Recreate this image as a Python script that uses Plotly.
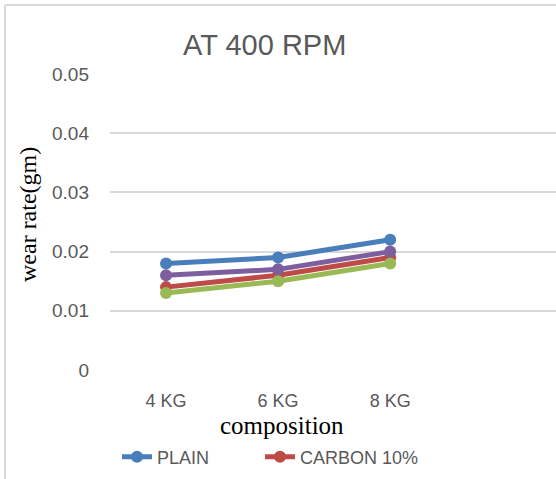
import plotly.graph_objects as go

categories = ["4 KG", "6 KG", "8 KG"]
plain = [0.018, 0.019, 0.022]
carbon10 = [0.014, 0.016, 0.019]
series3 = [0.013, 0.015, 0.018]
series4 = [0.016, 0.017, 0.020]

W, H = 556, 479
L, R, T, B = 110, 0, 74, 109
pw, ph = W - L - R, H - T - B

def px_x(x):
    return (x - L) / pw

def px_y(y):
    return (H - B - y) / ph

fig = go.Figure()
specs = [
    ("PLAIN", plain, "#4A7EBB", True, "legend"),
    ("CARBON 10%", carbon10, "#BE4B48", True, "legend2"),
    ("SERIES 3", series3, "#98B954", False, "legend"),
    ("SERIES 4", series4, "#7D5FA0", False, "legend"),
]
for name, vals, col, show, lg in specs:
    fig.add_trace(go.Scatter(
        x=categories, y=vals, name=name, mode="lines+markers",
        line=dict(color=col, width=5),
        marker=dict(color=col, size=12),
        showlegend=show, legend=lg,
    ))

grid = "#D9D9D9"
legend_common = dict(
    orientation="h", xanchor="left", y=px_y(457), yanchor="middle",
    font=dict(size=18, color="#595959"),
    bgcolor="rgba(0,0,0,0)", itemsizing="constant",
)
fig.update_layout(
    width=W, height=H,
    margin=dict(l=L, r=R, t=T, b=B),
    paper_bgcolor="white", plot_bgcolor="white",
    font=dict(family="Liberation Sans, Arial, sans-serif", color="#595959"),
    xaxis=dict(
        type="category", range=[-0.5, 3.48], showgrid=False, zeroline=False,
        showline=False, ticks="", tickfont=dict(size=18, color="#595959"),
        ticklabelstandoff=18,
    ),
    yaxis=dict(
        range=[0, 0.05], showgrid=True,
        gridcolor=grid, gridwidth=1.5, zeroline=False, showline=False, ticks="",
        tickfont=dict(size=19, color="#595959"), ticklabelstandoff=20,
        tickvals=[0, 0.01, 0.02, 0.03, 0.04, 0.05],
        ticktext=["0", "0.01", "0.02", "0.03", "0.04", "0.05"],
    ),
    legend=dict(x=px_x(117), **legend_common),
    legend2=dict(x=px_x(260), **legend_common),
    showlegend=True,
    annotations=[
        dict(text="AT 400 RPM", xref="paper", yref="paper", x=px_x(264), y=px_y(45),
             xanchor="center", yanchor="middle", showarrow=False,
             font=dict(size=29, color="#595959", family="Liberation Sans, Arial, sans-serif")),
        dict(text="composition", xref="paper", yref="paper", x=px_x(282), y=px_y(425),
             xanchor="center", yanchor="middle", showarrow=False,
             font=dict(size=25, color="black", family="Liberation Serif, Times New Roman, serif")),
        dict(text="wear rate(gm)", xref="paper", yref="paper", x=px_x(28), y=px_y(215),
             xanchor="center", yanchor="middle", showarrow=False, textangle=-90,
             font=dict(size=24, color="black", family="Liberation Serif, Times New Roman, serif")),
    ],
    shapes=[
        dict(type="line", xref="paper", yref="paper", x0=px_x(5), x1=px_x(5),
             y0=px_y(5), y1=px_y(479), line=dict(color=grid, width=2)),
        dict(type="line", xref="paper", yref="paper", x0=px_x(5), x1=px_x(556),
             y0=px_y(5), y1=px_y(5), line=dict(color=grid, width=2)),
    ],
)

fig.write_html("out.html")
